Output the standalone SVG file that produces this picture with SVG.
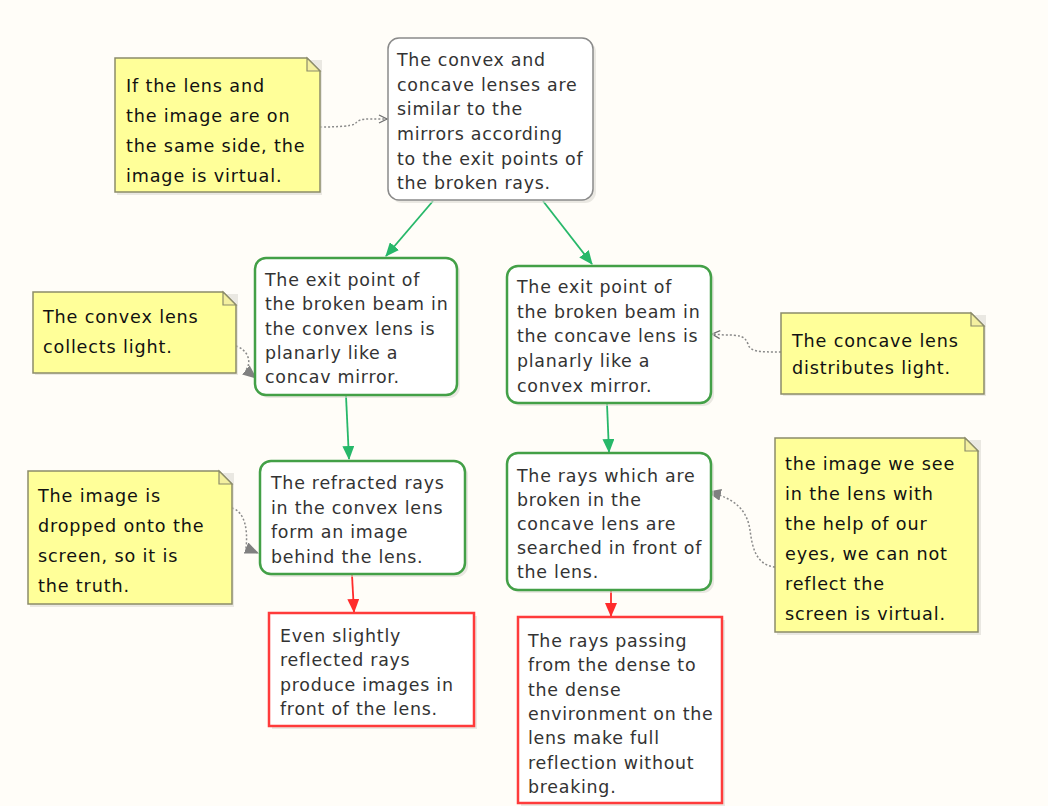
<svg xmlns="http://www.w3.org/2000/svg" width="1048" height="806" viewBox="0 0 1048 806">
<defs>
<style>
.bg{fill:#fffdf8}
.node{fill:#fff;stroke-width:2.5}
.gray{stroke:#8a8a8a;stroke-width:1.5}
.green{stroke:#43a047}
.red{stroke:#ff3b3b}
.shadow{fill:#dcdad4;opacity:.6}
.note{fill:#ffff99;stroke:#8c8c6a;stroke-width:1.5}
.fold{fill:#f4f0a0;stroke:#8c8c6a;stroke-width:1.2}
.t{font-family:"DejaVu Sans",Verdana,sans-serif;font-size:17.4px;fill:#333;letter-spacing:0.75px}
.n{font-family:"DejaVu Sans",Verdana,sans-serif;font-size:17.6px;fill:#111;letter-spacing:0.85px}
.cg{stroke:#27b86a;stroke-width:1.8;fill:none}
.cr{stroke:#ff2b2b;stroke-width:1.8;fill:none}
.cd{stroke:#8a8a8a;stroke-width:1.5;fill:none;stroke-dasharray:2 2}
</style>
<marker id="ag" markerWidth="14" markerHeight="12" refX="13" refY="6" orient="auto" markerUnits="userSpaceOnUse"><path d="M0,0 L14,6 L0,12 Z" fill="#27b86a"/></marker>
<marker id="ar" markerWidth="14" markerHeight="12" refX="13" refY="6" orient="auto" markerUnits="userSpaceOnUse"><path d="M0,0 L14,6 L0,12 Z" fill="#ff2b2b"/></marker>
<marker id="ad" markerWidth="14" markerHeight="12" refX="13" refY="6" orient="auto" markerUnits="userSpaceOnUse"><path d="M0,0 L14,6 L0,12 Z" fill="#808080"/></marker>
<marker id="ao" markerWidth="10" markerHeight="10" refX="9" refY="5" orient="auto" markerUnits="userSpaceOnUse"><path d="M1,1 L9,5 L1,9" fill="none" stroke="#707070" stroke-width="1.3"/></marker>
</defs>
<rect class="bg" x="0" y="0" width="1048" height="806"/>

<g id="connectors">
<path class="cg" d="M433,201 L386,256" marker-end="url(#ag)"/>
<path class="cg" d="M543,201 L592,264" marker-end="url(#ag)"/>
<path class="cg" d="M346,396 L349,459" marker-end="url(#ag)"/>
<path class="cg" d="M607,404 L609,452" marker-end="url(#ag)"/>
<path class="cr" d="M352,575 L354,612" marker-end="url(#ar)"/>
<path class="cr" d="M611,591 L611,616" marker-end="url(#ar)"/>
<path class="cd" d="M320,127 C340,127 350,126 355,124 C358,120 362,119 370,119 L387,119" marker-end="url(#ao)"/>
<path class="cd" d="M236,346 C248,350 252,362 246,370 L256,378" marker-end="url(#ad)"/>
<path class="cd" d="M781,352 C760,352 750,352 748,344 C745,336 740,335 725,335 L712,334" marker-end="url(#ao)"/>
<path class="cd" d="M232,508 C245,512 248,530 246,548 L258,553" marker-end="url(#ad)"/>
<path class="cd" d="M775,567 C755,565 752,545 750,530 C747,510 735,498 708,492" marker-end="url(#ad)"/>
</g>

<g id="top">
<rect class="shadow" x="391" y="41" width="205" height="162" rx="11"/>
<rect class="node gray" x="388" y="38" width="205" height="162" rx="11"/>
<text class="t" x="397" y="66">The convex and</text>
<text class="t" x="397" y="91">concave lenses are</text>
<text class="t" x="397" y="115">similar to the</text>
<text class="t" x="397" y="140">mirrors according</text>
<text class="t" x="397" y="165">to the exit points of</text>
<text class="t" x="397" y="189">the broken rays.</text>
</g>

<g id="note1">
<rect class="shadow" x="117" y="60" width="205" height="135"/>
<path class="note" d="M115,58 L307,58 L320,71 L320,192 L115,192 Z"/>
<path class="fold" d="M307,58 L307,71 L320,71 Z"/>
<text class="n" x="126" y="92">If the lens and</text>
<text class="n" x="126" y="122">the image are on</text>
<text class="n" x="126" y="152">the same side, the</text>
<text class="n" x="126" y="182">image is virtual.</text>
</g>

<g id="convexNode">
<rect class="shadow" x="258" y="261" width="202" height="137" rx="11"/>
<rect class="node green" x="255" y="258" width="202" height="137" rx="11"/>
<text class="t" x="265" y="286">The exit point of</text>
<text class="t" x="265" y="310">the broken beam in</text>
<text class="t" x="265" y="335">the convex lens is</text>
<text class="t" x="265" y="359">planarly like a</text>
<text class="t" x="265" y="383">concav mirror.</text>
</g>

<g id="concaveNode">
<rect class="shadow" x="510" y="269" width="204" height="137" rx="11"/>
<rect class="node green" x="507" y="266" width="204" height="137" rx="11"/>
<text class="t" x="517" y="293">The exit point of</text>
<text class="t" x="517" y="318">the broken beam in</text>
<text class="t" x="517" y="342">the concave lens is</text>
<text class="t" x="517" y="367">planarly like a</text>
<text class="t" x="517" y="392">convex mirror.</text>
</g>

<g id="note2">
<rect class="shadow" x="35" y="294" width="203" height="81"/>
<path class="note" d="M33,292 L223,292 L236,305 L236,373 L33,373 Z"/>
<path class="fold" d="M223,292 L223,305 L236,305 Z"/>
<text class="n" x="43" y="323">The convex lens</text>
<text class="n" x="43" y="353">collects light.</text>
</g>

<g id="note3">
<rect class="shadow" x="783" y="315" width="203" height="81"/>
<path class="note" d="M781,313 L971,313 L984,326 L984,394 L781,394 Z"/>
<path class="fold" d="M971,313 L971,326 L984,326 Z"/>
<text class="n" x="792" y="347">The concave lens</text>
<text class="n" x="792" y="374">distributes light.</text>
</g>

<g id="refractedNode">
<rect class="shadow" x="263" y="464" width="205" height="113" rx="11"/>
<rect class="node green" x="260" y="461" width="205" height="113" rx="11"/>
<text class="t" x="271" y="489">The refracted rays</text>
<text class="t" x="271" y="514">in the convex lens</text>
<text class="t" x="271" y="538">form an image</text>
<text class="t" x="271" y="563">behind the lens.</text>
</g>

<g id="searchedNode">
<rect class="shadow" x="510" y="456" width="204" height="137" rx="11"/>
<rect class="node green" x="507" y="453" width="204" height="137" rx="11"/>
<text class="t" x="517" y="482">The rays which are</text>
<text class="t" x="517" y="506">broken in the</text>
<text class="t" x="517" y="530">concave lens are</text>
<text class="t" x="517" y="554">searched in front of</text>
<text class="t" x="517" y="578">the lens.</text>
</g>

<g id="note4">
<rect class="shadow" x="30" y="473" width="204" height="134"/>
<path class="note" d="M28,471 L219,471 L232,484 L232,604 L28,604 Z"/>
<path class="fold" d="M219,471 L219,484 L232,484 Z"/>
<text class="n" x="38" y="502">The image is</text>
<text class="n" x="38" y="532">dropped onto the</text>
<text class="n" x="38" y="562">screen, so it is</text>
<text class="n" x="38" y="592">the truth.</text>
</g>

<g id="note5">
<rect class="shadow" x="777" y="440" width="204" height="195"/>
<path class="note" d="M775,438 L965,438 L978,451 L978,632 L775,632 Z"/>
<path class="fold" d="M965,438 L965,451 L978,451 Z"/>
<text class="n" x="785" y="470">the image we see</text>
<text class="n" x="785" y="500">in the lens with</text>
<text class="n" x="785" y="530">the help of our</text>
<text class="n" x="785" y="560">eyes, we can not</text>
<text class="n" x="785" y="590">reflect the</text>
<text class="n" x="785" y="620">screen is virtual.</text>
</g>

<g id="red1">
<rect class="shadow" x="272" y="616" width="205" height="113"/>
<rect class="node red" x="269" y="613" width="205" height="113"/>
<text class="t" x="280" y="642">Even slightly</text>
<text class="t" x="280" y="666">reflected rays</text>
<text class="t" x="280" y="691">produce images in</text>
<text class="t" x="280" y="715">front of the lens.</text>
</g>

<g id="red2">
<rect class="shadow" x="521" y="620" width="204" height="186"/>
<rect class="node red" x="518" y="617" width="204" height="186"/>
<text class="t" x="528" y="647">The rays passing</text>
<text class="t" x="528" y="671">from the dense to</text>
<text class="t" x="528" y="696">the dense</text>
<text class="t" x="528" y="720">environment on the</text>
<text class="t" x="528" y="744">lens make full</text>
<text class="t" x="528" y="769">reflection without</text>
<text class="t" x="528" y="793">breaking.</text>
</g>
</svg>
